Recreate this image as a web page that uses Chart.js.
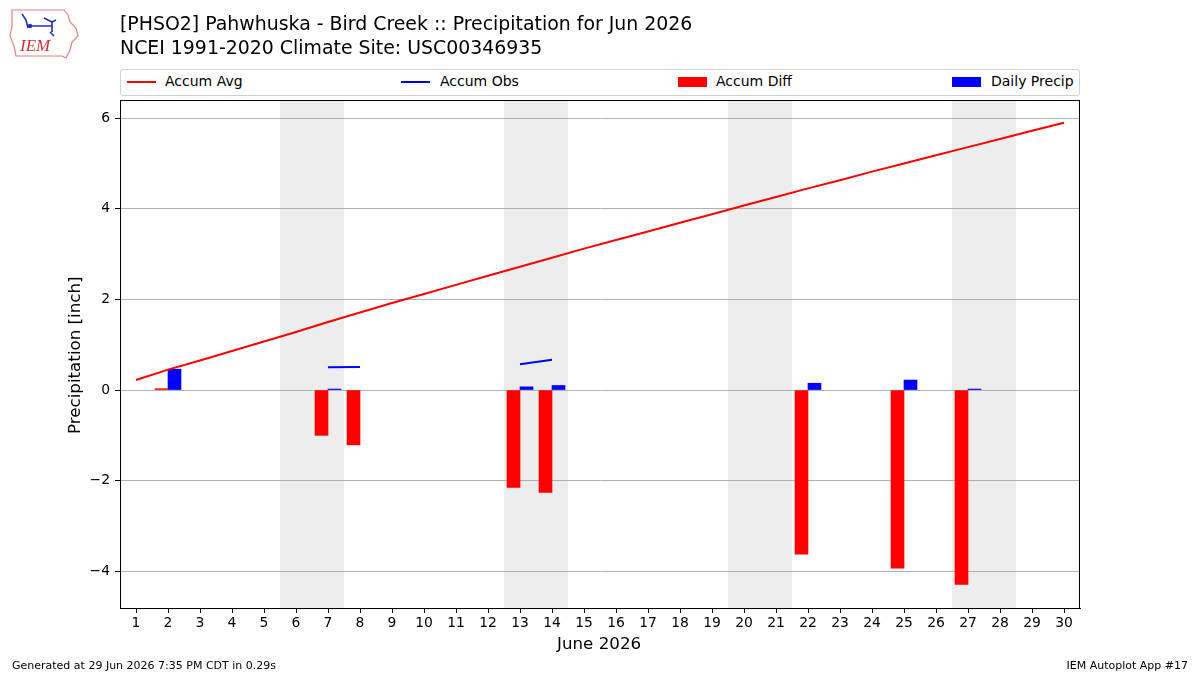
<!DOCTYPE html>
<html>
<head>
<meta charset="utf-8">
<script src="https://cdn.jsdelivr.net/npm/chart.js@4"></script>
<style>
  body { margin: 0; background: #fff; font-family: "DejaVu Sans", sans-serif; }
  #wrap { position: relative; width: 1200px; height: 675px; }
  canvas { position: absolute; left: 0; top: 0; }
  .txt { position: absolute; color: #000; white-space: nowrap; }
  #legend { position: absolute; left: 120px; top: 69px; width: 958px; height: 25px;
            border: 1px solid #d0d0d0; border-radius: 3px; background: #fff; }
  .lg { position: absolute; top: 3px; font-size: 14px; }
  .sw { position: absolute; }
</style>
</head>
<body>
<div id="wrap">
  <canvas id="chart" width="1200" height="675"></canvas>
  <svg style="position:absolute;left:8px;top:6px" width="72" height="54" viewBox="0 0 72 54">
    <path d="M4 4 L56 4 L60 9 L62 16 L68 22 L70 30 L64 36 L62 44 L58 52 L54 50 L8 50 L6 40 L2 30 L4 20 Z"
          fill="none" stroke="#e08080" stroke-width="1.2"/>
    <path d="M14 8 L18 14 M18 14 L20 22 M20 20 L44 20 M36 12 L44 16 L48 14 M44 16 L44 26 M42 26 L46 30"
          fill="none" stroke="#2030c0" stroke-width="1.6"/>
    <circle cx="22" cy="20" r="2.2" fill="#2030c0"/>
    <text x="12" y="45" font-family="Liberation Serif, serif" font-style="italic" font-size="17" fill="#d03030">IEM</text>
  </svg>
  <div class="txt" style="left:120px;top:12px;font-size:18.9px;">[PHSO2] Pahwhuska - Bird Creek :: Precipitation for Jun 2026</div>
  <div class="txt" style="left:120px;top:36px;font-size:18.9px;">NCEI 1991-2020 Climate Site: USC00346935</div>
  <div id="legend">
    <div class="sw" style="left:6px;top:11px;width:29px;height:2px;background:#ff0000"></div>
    <div class="lg" style="left:44px">Accum Avg</div>
    <div class="sw" style="left:280px;top:11px;width:29px;height:2px;background:#0000ff"></div>
    <div class="lg" style="left:319px">Accum Obs</div>
    <div class="sw" style="left:557px;top:7px;width:29px;height:10px;background:#ff0000"></div>
    <div class="lg" style="left:595px">Accum Diff</div>
    <div class="sw" style="left:831px;top:7px;width:29px;height:10px;background:#0000ff"></div>
    <div class="lg" style="left:870px">Daily Precip</div>
  </div>
  <div class="txt" style="font-size:16.7px;transform:rotate(-90deg);transform-origin:0 0;left:64px;top:434px;">Precipitation [inch]</div>
  <div class="txt" style="left:557px;top:633px;font-size:16.7px;">June 2026</div>
  <div class="txt" style="left:12px;top:659px;font-size:11px;">Generated at 29 Jun 2026 7:35 PM CDT in 0.29s</div>
  <div class="txt" style="right:12px;top:659px;font-size:11px;">IEM Autoplot App #17</div>
</div>
<script>
const days = Array.from({length: 30}, (_, i) => i + 1);

const accumAvg = [0.22, 0.45, 0.65, 0.86, 1.07, 1.28, 1.50, 1.71, 1.92, 2.12,
                  2.32, 2.52, 2.72, 2.92, 3.12, 3.31, 3.50, 3.69, 3.88, 4.07,
                  4.26, 4.45, 4.63, 4.82, 5.00, 5.18, 5.36, 5.54, 5.72, 5.90];

const accumObs = [null, 0.46, null, null, null, null, 0.50, 0.51, null, null,
                  null, null, 0.57, 0.67, null, null, null, null, null, null,
                  null, 0.83, null, null, 1.05, null, 1.06, null, null, null];

const accumDiff = [null, 0.03, null, null, null, null, -1.00, -1.21, null, null,
                   null, null, -2.15, -2.26, null, null, null, null, null, null,
                   null, -3.62, null, null, -3.93, null, -4.29, null, null, null];

const dailyPrecip = [null, 0.46, null, null, null, null, 0.01, null, null, null,
                     null, null, 0.07, 0.10, null, null, null, null, null, null,
                     null, 0.15, null, null, 0.22, null, 0.01, null, null, null];

const weekends = [[6, 7], [13, 14], [20, 21], [27, 28]];
const yTicks = [-4, -2, 0, 2, 4, 6];

const frame = {
  id: 'frame',
  beforeDraw(chart) {
    const { ctx, chartArea: a, scales: { x } } = chart;
    const half = (x.getPixelForValue(1) - x.getPixelForValue(0)) / 2;
    ctx.save();
    ctx.fillStyle = '#ededed';
    weekends.forEach(([s, e]) => {
      const x0 = x.getPixelForValue(days.indexOf(s)) - half;
      const x1 = x.getPixelForValue(days.indexOf(e)) + half;
      ctx.fillRect(x0, a.top, x1 - x0, a.bottom - a.top);
    });
    ctx.restore();
  },
  afterDraw(chart) {
    const { ctx, chartArea: a } = chart;
    ctx.save();
    ctx.strokeStyle = '#000';
    ctx.lineWidth = 1;
    ctx.strokeRect(a.left + 0.5, a.top + 0.5, a.right - a.left - 1, a.bottom - a.top);
    ctx.restore();
  }
};

new Chart(document.getElementById('chart'), {
  type: 'bar',
  data: {
    labels: days,
    datasets: [
      { type: 'line', label: 'Accum Avg', data: accumAvg, borderColor: '#ff0000',
        borderWidth: 2, pointRadius: 0, tension: 0 },
      { type: 'line', label: 'Accum Obs', data: accumObs, borderColor: '#0000ff',
        borderWidth: 2, pointRadius: 0, spanGaps: false },
      { label: 'Accum Diff', data: accumDiff, backgroundColor: '#ff0000', barThickness: 13 },
      { label: 'Daily Precip', data: dailyPrecip, backgroundColor: '#0000ff', barThickness: 13,
        minBarLength: 1 }
    ]
  },
  options: {
    responsive: false,
    animation: false,
    layout: { padding: { left: 0, top: 100, right: 120, bottom: 0 } },
    plugins: { legend: { display: false }, tooltip: { enabled: false } },
    scales: {
      x: {
        type: 'category',
        offset: true,
        grid: { display: true, drawOnChartArea: false, offset: false, tickLength: 5, tickColor: '#000' },
        border: { color: '#000' },
        ticks: { color: '#000', font: { family: 'DejaVu Sans', size: 13.9 }, padding: 2,
                 maxRotation: 0, autoSkip: false },
        afterFit(s) { s.height = 67; }
      },
      y: {
        min: -4.81,
        max: 6.40,
        afterBuildTicks(s) { s.ticks = yTicks.map(v => ({ value: v })); },
        grid: { color: '#b0b0b0', tickColor: '#000', tickLength: 5 },
        border: { color: '#000' },
        ticks: { color: '#000', font: { family: 'DejaVu Sans', size: 13.9 }, padding: 5,
                 callback: v => String(v).replace('-', '\u2212') },
        afterFit(s) { s.width = 120; }
      }
    }
  },
  plugins: [frame]
});
</script>
</body>
</html>
